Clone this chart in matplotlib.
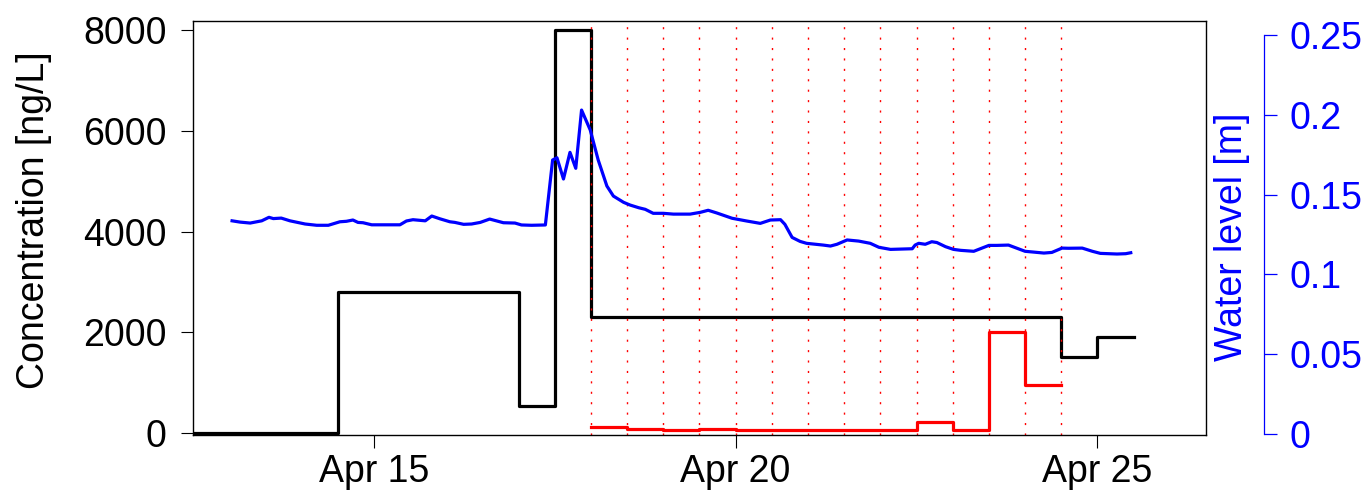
import numpy as np
import pandas as pd
import matplotlib
matplotlib.use("Agg")
import matplotlib.pyplot as plt
import matplotlib.dates as mdates

plt.rcParams["font.family"] = ["Liberation Sans", "DejaVu Sans"]

# time axis: fractional day of April
conc_edges = [12.5, 14.5, 17.0, 17.5, 18.0, 24.5, 25.0, 25.5]
conc_values = [0, 2800, 530, 8000, 2300, 1500, 1900]  # ng/L, black

# half-day sampling (red)
sample_edges = [18.0, 18.5, 19.0, 19.5, 20.0, 20.5, 21.0, 21.5, 22.0,
                22.5, 23.0, 23.5, 24.0, 24.5]
sample_values = [120, 80, 60, 70, 50, 60, 55, 50, 50, 210, 60, 2000, 950]

# water level (blue)
level_day = [13.04, 13.15, 13.29, 13.45, 13.55, 13.61, 13.72, 13.84, 14.05, 14.21,
             14.37, 14.53, 14.62, 14.71, 14.78, 14.85, 14.97, 15.36, 15.45, 15.54,
             15.71, 15.80, 15.91, 16.05, 16.12, 16.24, 16.35, 16.47, 16.60, 16.79,
             16.95, 17.04, 17.18, 17.37, 17.47, 17.53, 17.62, 17.71, 17.79, 17.87,
             17.99, 18.10, 18.22, 18.31, 18.40, 18.45, 18.54, 18.66, 18.75, 18.86,
             19.00, 19.14, 19.37, 19.51, 19.62, 19.74, 19.95, 20.15, 20.34, 20.48,
             20.62, 20.68, 20.78, 20.89, 20.98, 21.21, 21.31, 21.40, 21.54, 21.70,
             21.86, 21.98, 22.14, 22.44, 22.48, 22.53, 22.62, 22.71, 22.78, 22.90,
             23.01, 23.11, 23.29, 23.50, 23.61, 23.77, 24.00, 24.12, 24.26, 24.37,
             24.51, 24.60, 24.79, 24.93, 25.04, 25.27, 25.39, 25.46]
level_m = [0.1336, 0.1328, 0.1322, 0.1336, 0.1358, 0.1350, 0.1353, 0.1336, 0.1316, 0.1308,
           0.1308, 0.1330, 0.1333, 0.1341, 0.1326, 0.1324, 0.1311, 0.1311, 0.1335, 0.1343,
           0.1336, 0.1366, 0.1349, 0.1330, 0.1326, 0.1314, 0.1316, 0.1326, 0.1347, 0.1324,
           0.1322, 0.1310, 0.1308, 0.1310, 0.1717, 0.1731, 0.1598, 0.1765, 0.1665, 0.2030,
           0.1905, 0.1717, 0.1554, 0.1491, 0.1466, 0.1452, 0.1435, 0.1418, 0.1408, 0.1383,
           0.1383, 0.1378, 0.1378, 0.1389, 0.1402, 0.1385, 0.1352, 0.1335, 0.1320, 0.1341,
           0.1343, 0.1314, 0.1232, 0.1207, 0.1195, 0.1184, 0.1178, 0.1189, 0.1216, 0.1209,
           0.1195, 0.1170, 0.1157, 0.1161, 0.1184, 0.1195, 0.1189, 0.1205, 0.1200, 0.1174,
           0.1157, 0.1151, 0.1145, 0.1182, 0.1182, 0.1184, 0.1145, 0.1140, 0.1134, 0.1138,
           0.1165, 0.1164, 0.1165, 0.1145, 0.1132, 0.1128, 0.1130, 0.1136]

x_ticks = [15, 20, 25]
conc_ticks = [0, 2000, 4000, 6000, 8000]
level_ticks = [0, 0.05, 0.1, 0.15, 0.2, 0.25]
level_ticklabels = ["0", "0.05", "0.1", "0.15", "0.2", "0.25"]


def to_date(days):
    base = pd.Timestamp("2019-04-01")
    return [base + pd.Timedelta(days=d - 1) for d in days]


fs = 27
fig = plt.figure(figsize=(13.71, 4.90), dpi=100)
ax = fig.add_axes([193 / 1371, 55 / 490, 1013 / 1371, 414 / 490])

ax.step(to_date(conc_edges), conc_values + [conc_values[-1]], where="post",
        color="black", lw=2.3)
ax.step(to_date(sample_edges), sample_values + [sample_values[-1]], where="post",
        color="red", lw=2.3)
for d in to_date(sample_edges):
    ax.axvline(d, color="red", lw=1.0, ls=(0, (1.5, 6)))

ax.set_xlim(to_date([12.5, 26.5]))
ax.set_ylim(-40, 8180)
ax.set_xticks(to_date(x_ticks))
ax.xaxis.set_major_formatter(mdates.DateFormatter("%b %d"))
ax.set_yticks(conc_ticks)
ax.tick_params(axis="both", labelsize=fs, length=9, width=0.8, direction="out")
ax.tick_params(axis="y", pad=10)
ax.tick_params(axis="x", pad=5)
for s in ax.spines.values():
    s.set_linewidth(1.0)
ax.set_ylabel("Concentration [ng/L]", fontsize=fs)
ax.yaxis.set_label_coords(-0.139, 0.52)

ax2 = ax.twinx()
ax2.plot(to_date(level_day), level_m, color="blue", lw=2.3)
ax2.set_ylim(-0.0006, 0.2588)
ax2.set_yticks(level_ticks)
ax2.set_yticklabels(level_ticklabels)
for side in ["top", "bottom", "left"]:
    ax2.spines[side].set_visible(False)
ax2.spines["right"].set_position(("outward", 42))
ax2.spines["right"].set_bounds(0, 0.25)
ax2.spines["right"].set_color("blue")
ax2.spines["right"].set_linewidth(0.9)
ax2.tick_params(axis="y", colors="blue", labelsize=fs, length=9, width=0.9, pad=9)
ax2.set_ylabel("Water level [m]", fontsize=fs, color="blue")
ax2.yaxis.set_label_coords(1.008, 0.478)

fig.savefig("out.png", dpi=100)
